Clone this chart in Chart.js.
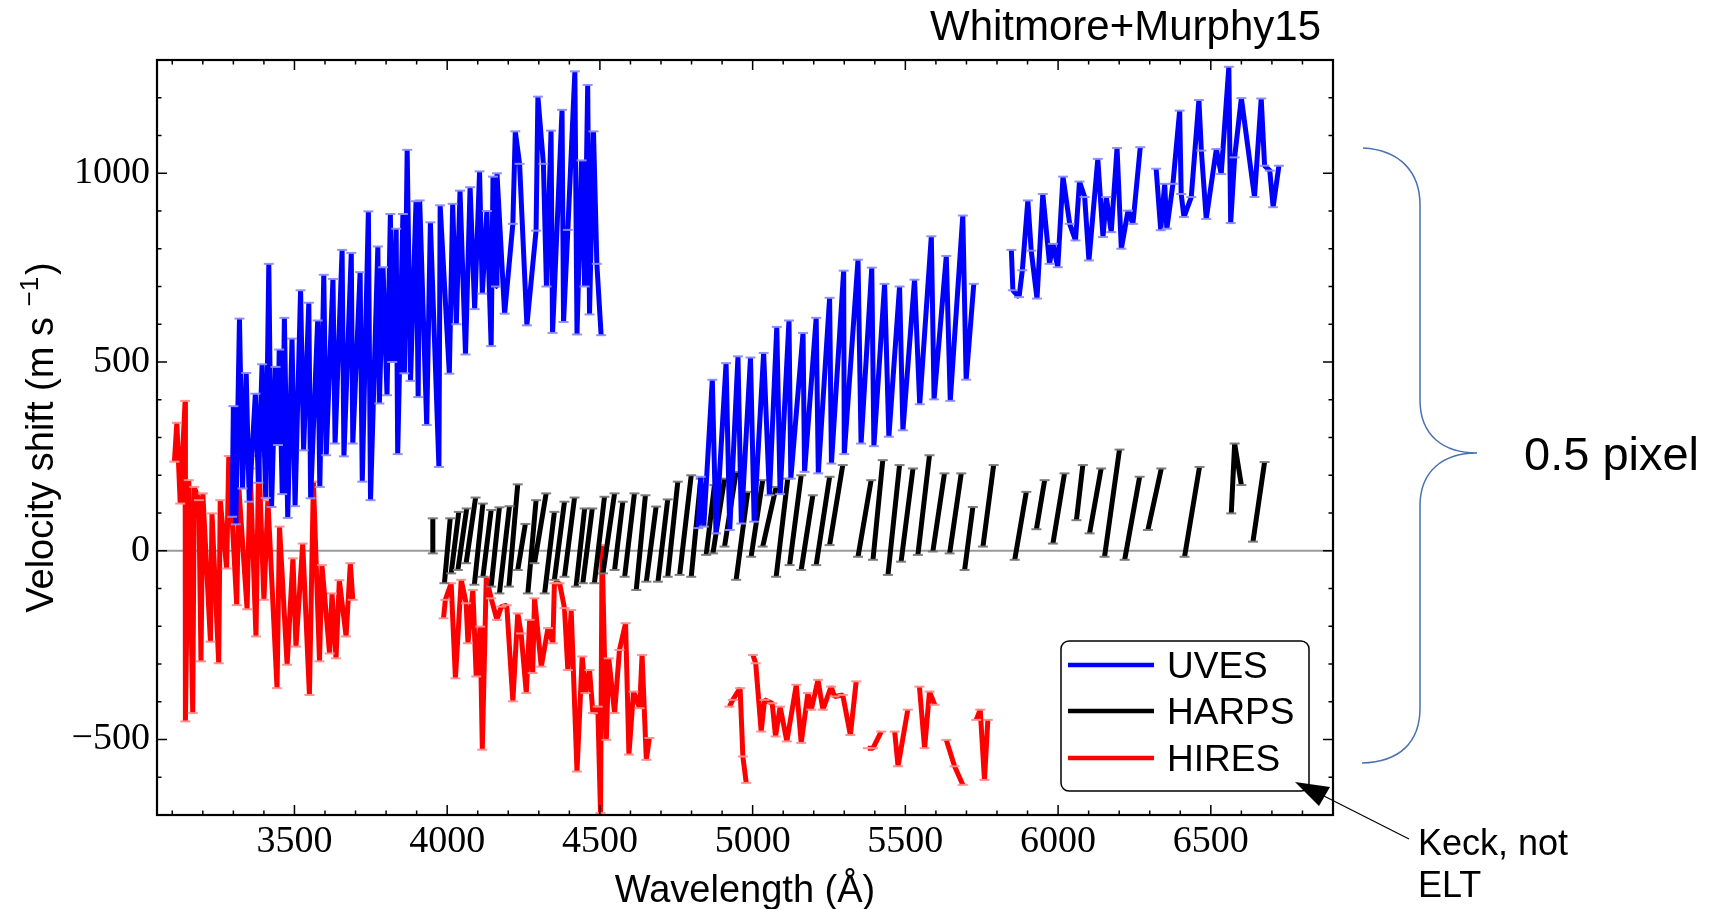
<!DOCTYPE html>
<html>
<head>
<meta charset="utf-8">
<script src="https://cdn.jsdelivr.net/npm/chart.js@4.4.1/dist/chart.umd.min.js"></script>
<style>
html, body { margin: 0; padding: 0; background: #fff; }
#wrap { position: relative; width: 1724px; height: 909px; }
</style>
</head>
<body>
<div id="wrap"><canvas id="myChart"></canvas></div>
<script>
// values: wavelength (A) and velocity shift (m/s)
// null = break in the line
var seriesNames = ['UVES', 'HARPS', 'HIRES'];
var seriesColors = ['#0000ff', '#000000', '#ff0000'];
var capColors = ['rgba(140,140,255,0.95)', 'rgba(120,120,120,0.95)', 'rgba(255,140,140,0.95)'];
var xTickLabels = [3500, 4000, 4500, 5000, 5500, 6000, 6500];
var yTickLabels = [-500, 0, 500, 1000];

var uvesX = [3296,3300,3308,3320,3330,3342,3352,3372,3382,3394,3406,3416,3425,3438,3446,3450,3460,3467,3478,3492,
	3502,3520,3530,3547,3553,3576,3583,3596,3604,3626,3633,3656,3662,3686,3691,3715,3722,3742,3749,3773,
	3778,3790,3803,3814,3820,3833,3838,3855,3860,3869,3880,3898,3905,3910,3933,3945,3973,3977,4007,4018,
	4030,4042,4060,4075,4090,4106,4115,4130,4144,4150,4160,4163,4188,4215,4223,4237,4261,4291,4297,4315,
	4325,4340,4345,4376,4381,4395,4418,4425,4440,4450,4460,4466,4479,4490,4504,
	null,
	4822,4830,4840,4868,4880,4913,4925,4952,4963,4993,5005,5036,5055,5079,5090,5119,5125,5165,5170,5208,
	5215,5252,5258,5298,5300,5345,5355,5390,5397,5432,5446,5481,5492,5530,5547,5585,5594,5634,5647,5688,
	5699,5724,
	null,
	5847,5852,5872,5883,5901,5912,5931,5950,5972,5983,5999,6016,6038,6057,6070,6087,6101,6130,6147,6158,
	6174,6193,6207,6229,6245,6269,
	null,
	6321,6336,6349,6356,6376,6398,6403,6412,6436,6461,6469,6485,6518,6534,6559,6565,6578,6600,6643,6665,
	6676,6693,6704,6723];
var uvesY = [90,383,70,615,165,471,130,416,180,494,140,760,116,487,280,533,150,617,87,562,
	118,690,266,657,139,610,169,731,253,720,284,797,250,789,284,738,183,899,134,806,
	390,751,412,892,500,853,256,892,470,1062,450,926,407,928,333,870,222,915,469,919,
	600,954,520,963,640,1005,681,900,542,991,700,1000,628,866,1111,1025,597,848,1203,1025,
	700,1113,577,1168,606,850,1270,573,1034,700,1234,626,1111,760,571,
	null,
	60,196,64,453,46,497,55,515,72,512,77,524,147,593,150,610,191,577,209,617,
	205,670,231,742,256,771,284,750,277,707,302,700,319,718,388,833,401,781,397,888,
	453,707,
	null,
	797,690,672,743,928,795,668,945,760,813,751,991,866,822,978,937,769,1038,831,937,
	844,1067,800,901,866,1069,
	null,
	1012,849,972,853,972,1166,945,884,937,1194,1060,879,1064,998,1282,868,1042,1199,937,1198,
	1020,1007,910,1020];

var harpsX = [3953,3953,null, 3991,4010,null, 4013,4038,null, 4035,4064,null, 4062,4093,null,
	4089,4117,null, 4117,4144,null, 4144,4171,null, 4171,4204,null, 4202,4231,null,
	4231,4256,null, 4264,4291,null, 4286,4324,null, 4319,4351,null, 4351,4384,null,
	4384,4417,null, 4422,4450,null, 4444,4475,null, 4482,4515,null, 4510,4548,null,
	4548,4575,null, 4581,4613,null, 4619,4649,null, 4652,4684,null, 4690,4722,null,
	4722,4755,null, 4761,4799,null, 4799,4830,null, 4848,4875,null, 4870,4908,null,
	4908,4946,null, 4946,4984,null, 4995,5033,null, 5033,5077,null, 5077,5115,null,
	5121,5159,null, 5159,5197,null, 5208,5252,null, 5252,5295,null, 5345,5388,null,
	5394,5426,null, 5443,5481,null, 5486,5525,null, 5541,5579,null, 5590,5628,null,
	5645,5683,null, 5694,5721,null, 5754,5789,null, 5858,5896,null, 5929,5956,null,
	5983,6021,null, 6060,6081,null, 6103,6141,null, 6152,6201,null, 6218,6267,null,
	6294,6338,null, 6414,6463,null, 6567,6578,6600,null, 6638,6676];
var harpsY = [-7,86,null, -86,86,null, -60,103,null, -51,112,null, -33,141,null,
	-90,125,null, -69,108,null, -95,115,null, -113,118,null, -95,176,null,
	-51,71,null, -113,134,null, -33,152,null, -113,103,null, -77,130,null,
	-69,141,null, -95,112,null, -86,112,null, -86,143,null, -60,152,null,
	-51,130,null, -69,152,null, -104,147,null, -82,117,null, -82,136,null,
	-69,183,null, -64,200,null, -69,191,null, -11,174,null, -7,191,null,
	11,209,null, -77,156,null, -16,187,null, 11,169,null, -69,191,null,
	-38,200,null, -51,147,null, -38,196,null, 15,227,null, -16,187,null,
	-24,240,null, -64,227,null, -29,218,null, -11,253,null, -2,205,null,
	-7,205,null, -51,116,null, 11,227,null, -24,156,null, 57,187,null,
	19,205,null, 81,227,null, 46,218,null, -16,268,null, -24,196,null,
	55,218,null, -16,222,null, 99,284,174,null, 24,235];

var hiresX = [3107,3115,3126,3142,3143,3154,3167,3172,3187,3194,3200,3225,3230,3252,3257,3278,3285,3311,3318,3345,
	3355,3374,3383,3400,3413,3443,3451,3476,3495,3505,3527,3549,3562,3582,3590,3615,3623,3636,3647,3669,
	3683,3691,
	null,
	3988,3994,4013,4027,4046,4062,4068,4084,4095,4108,4115,4128,4144,4163,4177,4195,4215,4231,4242,4259,
	4270,4280,4286,4308,4330,4346,4351,4368,4384,4395,4406,4425,4442,4453,4466,4477,4493,4502,4507,4521,
	4529,4548,4564,4584,4595,4610,4630,4638,4652,4662,
	null,
	4924,4935,4959,4968,4979,null,5001,5010,5028,5039,5064,5075,5090,5112,5143,5159,5181,5192,5214,5230,
	5257,5268,5295,5320,5339,null,5377,5394,5421,null,5465,5476,5508,null,5546,5563,5579,5596,null,5634,
	5661,5688,null,5732,5745,5759,5770];
var hiresY = [236,339,125,397,-452,187,-430,169,134,-293,152,-241,99,-298,134,-47,251,-144,165,-155,
	218,-227,251,-130,134,-364,64,-302,-20,-254,19,-382,183,-293,-38,-272,-113,-285,-78,-227,
	-33,-130,
	null,
	-179,-130,-86,-338,-77,-139,-245,-104,-333,-201,-527,-69,-126,-183,-148,-144,-399,-166,-219,-377,
	-183,-324,-126,-307,-205,-245,-86,-86,-152,-316,-157,-585,-280,-377,-316,-430,-413,-695,15,-501,
	-285,-430,-263,-192,-540,-373,-417,-276,-554,-496,
	null,
	-413,-395,-364,-545,-615,null,-276,-298,-479,-395,-404,-492,-413,-505,-355,-509,-377,-421,-342,-421,
	-360,-386,-382,-488,-346,null,-523,-523,-479,null,-479,-571,-421,null,-360,-523,-373,-408,null,-501,
	-571,-620,null,-448,-421,-607,-448];

function toPoints(xs, ys) {
	var pts = [];
	for (var i = 0; i < xs.length; i++) {
		pts.push({ x: xs[i], y: ys[i] });
	}
	return pts;
}

var allX = [uvesX, harpsX, hiresX];
var allY = [uvesY, harpsY, hiresY];
var datasets = [];
for (var k = 0; k < 3; k++) {
	datasets.push({
		label: seriesNames[k],
		data: toPoints(allX[k], allY[k]),
		borderColor: seriesColors[k],
		backgroundColor: seriesColors[k],
		borderWidth: 5,
		borderJoinStyle: 'bevel',
		pointStyle: 'line',
		pointRadius: 5,
		pointBorderWidth: 2,
		pointBorderColor: capColors[k],
		spanGaps: false,
		tension: 0
	});
}

// frame, inward ticks, zero line, legend and the hand-drawn notes
var decor = {
	id: 'decor',
	beforeDatasetsDraw: function(chart) {
		var ctx = chart.ctx, a = chart.chartArea;
		var y0 = chart.scales.y.getPixelForValue(0);
		ctx.save();
		ctx.strokeStyle = '#9a9a9a';
		ctx.lineWidth = 2;
		ctx.beginPath();
		ctx.moveTo(a.left, y0);
		ctx.lineTo(a.right, y0);
		ctx.stroke();
		ctx.restore();
	},
	afterDatasetsDraw: function(chart) {
		var ctx = chart.ctx, a = chart.chartArea;
		var xs = chart.scales.x, ys = chart.scales.y;
		ctx.save();
		ctx.strokeStyle = '#000';
		ctx.lineWidth = 1.5;
		var v, p, len;
		ctx.beginPath();
		for (v = 3100; v <= 6800; v += 100) {
			p = xs.getPixelForValue(v);
			len = (v % 500 === 0) ? 10 : 4.5;
			ctx.moveTo(p, a.bottom); ctx.lineTo(p, a.bottom - len);
			ctx.moveTo(p, a.top); ctx.lineTo(p, a.top + len);
		}
		for (v = -600; v <= 1200; v += 100) {
			p = ys.getPixelForValue(v);
			len = (v % 500 === 0) ? 10 : 4.5;
			ctx.moveTo(a.left, p); ctx.lineTo(a.left + len, p);
			ctx.moveTo(a.right, p); ctx.lineTo(a.right - len, p);
		}
		ctx.stroke();
		ctx.lineWidth = 2.2;
		ctx.strokeRect(a.left, a.top, a.right - a.left, a.bottom - a.top);

		// legend box
		var lx = 1061, ly = 641, lw = 248, lh = 150, r = 8;
		ctx.beginPath();
		ctx.moveTo(lx + r, ly);
		ctx.arcTo(lx + lw, ly, lx + lw, ly + lh, r);
		ctx.arcTo(lx + lw, ly + lh, lx, ly + lh, r);
		ctx.arcTo(lx, ly + lh, lx, ly, r);
		ctx.arcTo(lx, ly, lx + lw, ly, r);
		ctx.closePath();
		ctx.fillStyle = '#fff';
		ctx.fill();
		ctx.lineWidth = 1.5;
		ctx.strokeStyle = '#000';
		ctx.stroke();
		var rowsY = [665, 711, 758];
		ctx.font = '37px "Liberation Sans", Arial, sans-serif';
		ctx.textBaseline = 'alphabetic';
		ctx.textAlign = 'left';
		for (var k = 0; k < 3; k++) {
			ctx.strokeStyle = seriesColors[k];
			ctx.lineWidth = 4.5;
			ctx.beginPath();
			ctx.moveTo(1068, rowsY[k]);
			ctx.lineTo(1154, rowsY[k]);
			ctx.stroke();
			ctx.fillStyle = '#000';
			ctx.fillText(seriesNames[k], 1167, rowsY[k] + 13);
		}
		ctx.restore();
	},
	afterDraw: function(chart) {
		var ctx = chart.ctx, a = chart.chartArea;
		ctx.save();
		ctx.fillStyle = '#000';
		ctx.textBaseline = 'alphabetic';

		ctx.font = '42px "Liberation Sans", Arial, sans-serif';
		ctx.textAlign = 'right';
		ctx.fillText('Whitmore+Murphy15', 1321, 40);

		ctx.font = '38px "Liberation Sans", Arial, sans-serif';
		ctx.textAlign = 'center';
		ctx.fillText('Wavelength (\u00c5)', (a.left + a.right) / 2, 902);

		// y title with superscript
		var t1 = 'Velocity shift (m s ', t2 = '\u22121', t3 = ')';
		ctx.font = '38px "Liberation Sans", Arial, sans-serif';
		var w1 = ctx.measureText(t1).width, w3 = ctx.measureText(t3).width;
		ctx.font = '26px "Liberation Sans", Arial, sans-serif';
		var w2 = ctx.measureText(t2).width;
		var tot = w1 + w2 + w3 + 2;
		ctx.translate(53, (a.top + a.bottom) / 2);
		ctx.rotate(-Math.PI / 2);
		ctx.textAlign = 'left';
		ctx.font = '38px "Liberation Sans", Arial, sans-serif';
		ctx.fillText(t1, -tot / 2, 0);
		ctx.font = '26px "Liberation Sans", Arial, sans-serif';
		ctx.fillText(t2, -tot / 2 + w1, -15);
		ctx.font = '38px "Liberation Sans", Arial, sans-serif';
		ctx.fillText(t3, -tot / 2 + w1 + w2 + 2, 0);
		ctx.setTransform(1, 0, 0, 1, 0, 0);

		// brace
		ctx.strokeStyle = '#4a72b0';
		ctx.lineWidth = 1.5;
		ctx.beginPath();
		ctx.moveTo(1363, 148);
		ctx.bezierCurveTo(1400, 150, 1420, 172, 1420, 205);
		ctx.lineTo(1420, 400);
		ctx.bezierCurveTo(1420, 436, 1444, 453, 1477, 453);
		ctx.bezierCurveTo(1444, 453, 1420, 470, 1420, 506);
		ctx.lineTo(1420, 708);
		ctx.bezierCurveTo(1420, 742, 1400, 762, 1362, 763);
		ctx.stroke();

		ctx.fillStyle = '#000';
		ctx.textAlign = 'left';
		ctx.font = '47px "Liberation Sans", Arial, sans-serif';
		ctx.fillText('0.5 pixel', 1524, 470);

		ctx.font = '36px "Liberation Sans", Arial, sans-serif';
		ctx.fillText('Keck, not', 1418, 855);
		ctx.fillText('ELT', 1418, 897);

		// arrow to the legend
		ctx.strokeStyle = '#000';
		ctx.lineWidth = 1.2;
		ctx.beginPath();
		ctx.moveTo(1409, 839);
		ctx.lineTo(1318, 793);
		ctx.stroke();
		ctx.beginPath();
		ctx.moveTo(1295, 782);
		ctx.lineTo(1330, 787);
		ctx.lineTo(1319, 806);
		ctx.closePath();
		ctx.fill();
		ctx.restore();
	}
};

var ctx = document.getElementById('myChart').getContext('2d');
var chart = new Chart(ctx, {
	type: 'line',
	data: { datasets: datasets },
	options: {
		responsive: true,
		maintainAspectRatio: false,
		animation: false,
		layout: { padding: { left: 0, right: 391, top: 60, bottom: 0 } },
		plugins: {
			legend: { display: false },
			title: { display: false },
			tooltip: { enabled: false }
		},
		scales: {
			x: {
				type: 'linear',
				min: 3050,
				max: 6900,
				afterFit: function(s) { s.height = 94; },
				afterBuildTicks: function(s) {
					s.ticks = xTickLabels.map(function(v) { return { value: v }; });
				},
				grid: { display: false, drawTicks: false },
				border: { display: false },
				ticks: {
					font: { family: '"Liberation Serif", "Times New Roman", serif', size: 38 },
					color: '#000',
					padding: 4,
					maxRotation: 0,
					autoSkip: false,
					callback: function(v) { return String(v); }
				}
			},
			y: {
				type: 'linear',
				min: -700,
				max: 1300,
				afterFit: function(s) { s.width = 157; },
				afterBuildTicks: function(s) {
					s.ticks = yTickLabels.map(function(v) { return { value: v }; });
				},
				grid: { display: false, drawTicks: false },
				border: { display: false },
				ticks: {
					font: { family: '"Liberation Serif", "Times New Roman", serif', size: 38 },
					color: '#000',
					padding: 7,
					autoSkip: false,
					callback: function(v) { return v < 0 ? '\u2212' + (-v) : String(v); }
				}
			}
		}
	},
	plugins: [decor]
});
</script>
</body>
</html>
